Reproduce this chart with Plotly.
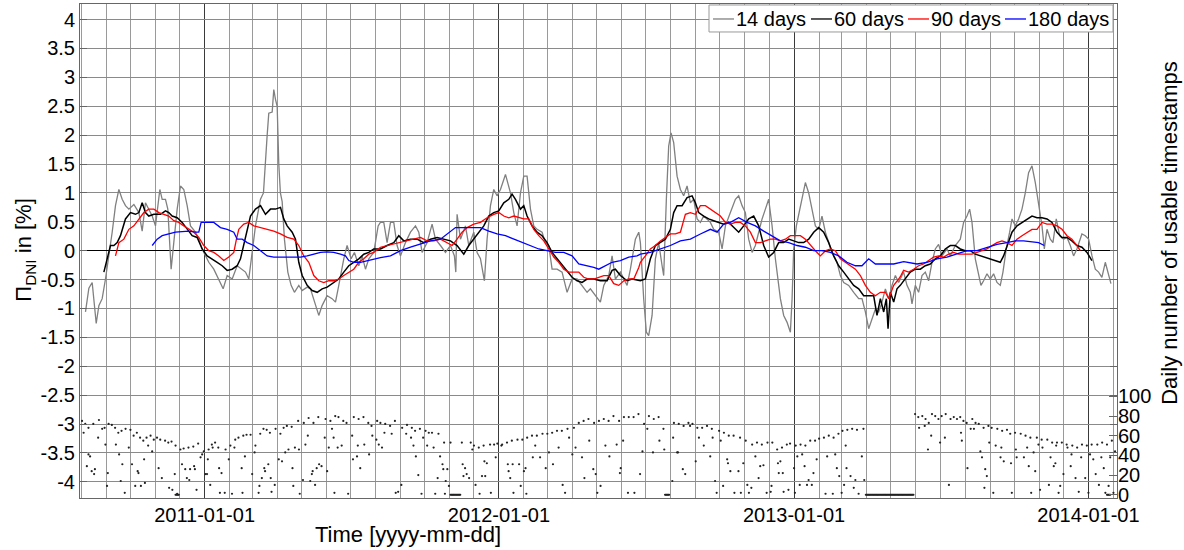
import pandas as pd
import plotly.graph_objects as go

BASE = "2010-08-01"  # day offsets below are counted from this date

# ---------------- 14 days (grey) ----------------
g14_day = [5.3, 9.5, 13.6, 18.6, 21.9, 26, 30.1, 34.3, 38.4, 42.5, 46.7, 50.8, 54.9, 59.1, 65.3, 71.5, 75.6,
           79.7, 83.8, 88, 92.1, 97.5, 100.4, 104.5, 107.4, 111.5, 114.8, 119, 123.1, 127.2, 131.4, 135.5,
           141.7, 145.8, 150, 154.1, 158.2, 164.4, 170.6, 176, 181, 187.2, 193.4, 199.6, 203.7, 207.8, 212,
           216.1, 222.3, 226, 230.6, 232.6, 236.8, 238.8, 240.9, 243, 245, 247, 249.2, 252, 256.2, 260.3,
           264.4, 269.8, 274, 280.2, 284.3, 288.4, 294.6, 298.7, 304.9, 311.1, 315.3, 319.4, 325.6, 329.7,
           334.7, 338.8, 344.2, 348.3, 352.5, 356.6, 362.8, 368.2, 371,
           375.2, 379.3, 383.5, 387.6, 391.7, 395.9, 402.1, 408.3, 414.5, 418.6, 422.7, 428.9, 435.1, 439.3,
           445.5, 451.7, 457.9, 462.8, 464.5, 466.1, 470.3, 476.5, 480.6, 486.8, 490.9, 495.1, 500, 503.3,
           507.5, 511.6, 515.7, 519.9, 526.1, 532.3, 536.4, 540.5, 544.7, 548.8, 552.9, 557.1, 561.2, 565.3,
           571.5, 575.6, 579.8, 583.9, 590.1, 596.3, 602.5, 608.7, 614.9, 621.1, 627.3, 631.4, 637.6, 643.8,
           648, 654.2, 658.3, 662.4, 668.6, 676.9, 681, 687.2, 691.4,
           693.4, 697.5, 700.8, 703.7, 707.9, 712, 716.1, 720.3, 722.3, 725.6, 728.5, 731.4, 734.7, 738.9,
           743, 747.1, 751.3, 755.4, 759.5, 763.7, 767.8, 771.9, 776, 780.2, 784.3, 790.5, 794.7, 798.8, 805,
           811.2, 815.3, 819.5, 823.6, 827.7, 831.9, 836, 840.1, 844.3, 848.4, 852.5, 856.7, 860.8, 867,
           871.1, 875.3, 879.4, 881.5, 883.5, 886.8, 891, 895.1, 898, 902.1, 906.2, 910.4, 914.5, 918.6,
           922.8, 926.9, 931, 937.2, 941.4, 945.5, 951.7, 957.9, 964.1, 968.2, 972.4, 976.5, 980.6, 984.8,
           988.9, 993, 997.2, 1001.3, 1005.4, 1009.6, 1013.7,
           1015.7, 1019.8, 1024, 1028.1, 1030.2, 1034.3, 1038.4, 1042.6, 1046.7, 1050.8, 1055, 1059.1,
           1063.2, 1067.4, 1073.6, 1077.7, 1083.9, 1090.1, 1094.2, 1098.4, 1101.7, 1104.6, 1108.7, 1112.8,
           1115.7, 1119, 1123.2, 1127.3, 1131.4, 1135.6, 1139.7, 1143, 1147.1, 1151.3, 1154.2, 1158.3,
           1162.4, 1166.6, 1170.7, 1174.8, 1179, 1183.1, 1187.2, 1191.4, 1194.3, 1197.6, 1201.7, 1205,
           1209.1, 1213.3, 1218.2, 1222.4, 1226.5, 1230.6, 1234.7, 1240.9, 1245.1, 1249.2, 1253.4, 1257.5,
           1261.6, 1265.7, 1269.9, 1274, 1276.9]
g14_val = [-1.06, -0.65, -0.55, -1.26, -0.95, -0.83, -0.49, -0.09, 0.32, 0.78, 1.06, 0.89, 0.78, 0.72, 0.8,
           0.66, 0.34, 0.83, 0.72, 0.6, 0.43, 1.06, 0.89, 0.89, 0.72, -0.32, 0.14, 0.72, 1.12, 1.06, 0.78,
           0.43, 0.32, 0.2, 0.03, -0.09, -0.2, -0.32, -0.49, -0.66, -0.43, -0.49, -0.26, -0.32, -0.37, -0.49,
           0.03, 0.43, 0.89, 1.0, 2.0, 2.38, 2.4, 2.79, 2.62, 2.5, 1.5, 1.0, 0.85, 0.2, -0.37, -0.6, -0.72,
           -0.6, -0.69, -0.63, -0.66, -0.83, -1.12, -0.95, -0.78, -0.83, -0.89, -0.6, -0.14, 0.09, -0.14,
           -0.03, -0.26, -0.09, -0.32, -0.14, -0.03, 0.43, 0.49,
           0.49, 0.14, 0.49, 0.49, 0.09, -0.09, 0.14, 0.32, 0.43, 0.32, -0.03, 0.14, 0.46, 0.2, 0.09, -0.03,
           0.09, -0.09, -0.37, 0.63, 0.2, 0.43, 0.09, 0.32, -0.03, -0.14, -0.52, 0.2, 0.78, 1.06, 0.95, 1.06,
           1.32, 1.0, 0.66, 0.43, 1.0, 1.29, 1.29, 0.72, 0.43, 0.37, 0.32, 0.14, 0.09, -0.32, -0.32, -0.37,
           -0.72, -0.49, -0.49, -0.6, -0.72, -0.66, -0.78, -0.89, -0.6, -0.43, -0.09, -0.49, -0.37, -0.6,
           -0.32, 0.2, 0.32,
           0.14, -0.83, -1.41, -1.47, -1.12, -0.14, 0.14, -0.26, -0.43, 0.89, 1.81, 2.04, 1.87, 1.29, 1.06,
           0.95, 1.12, 0.83, 0.89, 0.55, 0.49, 0.6, 0.55, 0.49, 0.37, 0.32, 0.03, 0.43, 0.66, 0.89, 0.95,
           0.78, 0.66, 0.2, -0.03, 0.09, 0.32, 0.55, 0.72, 0.89, 0.43, -0.14, -0.83, -1.12, -1.24, -1.41,
           -0.83, 0.03, 0.43, 0.72, 0.95, 1.18, 1.0, 0.72, 0.43, 0.37, 0.6, 0.32, 0.14, -0.03, -0.2, -0.43,
           -0.55, -0.6, -0.72, -0.83, -0.83, -1.06, -1.35, -1.18, -1.01, -1.06, -0.89, -0.66, -0.83, -0.6,
           -0.43, -0.55,
           -0.49, -0.37, -0.6, -0.72, -0.92, -0.6, -0.72, -0.43, -0.37, -0.52, -0.2, 0.03, 0.11, -0.09, 0.03,
           -0.09, 0.09, 0.2, 0.49, 0.6, 0.72, 0.49, -0.14, -0.43, -0.6, -0.52, -0.4, -0.49, -0.4, -0.55,
           -0.6, -0.37, 0.03, 0.32, 0.55, 0.43, 0.55, 0.72, 1.0, 1.35, 1.47, 1.18, 0.78, 0.43, 0.03, 0.37,
           0.2, 0.14, 0.55, 0.26, 0.2, 0.23, 0.09, -0.09, 0.03, 0.29, 0.26, 0.2, -0.09, -0.32, -0.37, -0.46,
           -0.2, -0.43, -0.57]

# ---------------- 60 days (black) ----------------
g60_day = [28.1, 32.2, 36.3, 40.5, 44.6, 48.7, 54.9, 61.1, 67.3, 71.5, 75.6, 79.7, 83.8, 90.1, 98.3, 104.5,
           108.6, 112.8, 119, 125.2, 131.4, 137.6, 143.8, 150, 156.2, 162.4, 168.6, 174.8, 181, 187.2, 193.4,
           197.5, 201.6, 205.8, 209.9, 216.1, 222.3, 228.5, 234.7, 240.9, 247.1, 251.2, 255.4, 261.6, 265.7,
           269.8, 274, 280.2, 286.4, 292.6, 298.8, 305, 313.2, 319.4, 325.6, 331.8, 338, 344.2, 350.4, 356.6,
           362.8,
           371.1, 379.3, 387.6, 393.8, 400, 408.3, 416.5, 424.8, 433.1, 441.3, 449.6, 457.9, 466.1, 474.4,
           480.6, 486.8, 493, 499.2, 505.4, 511.6, 517.8, 524, 530.2, 534.3, 538.5, 544.7, 548.8, 552.9,
           559.1, 565.3, 571.5, 577.7, 583.9, 590.1, 596.3, 602.5, 608.7, 614.9, 621.1, 627.3, 635.6, 643.8,
           652.1, 658.3, 662.4, 668.6, 676.9, 683.1, 691.4,
           693.4, 699.6, 705.8, 712, 718.2, 724.4, 730.6, 734.7, 738.9, 745.1, 751.3, 757.5, 761.6, 765.7,
           771.9, 778.1, 784.3, 790.5, 796.7, 802.9, 809.1, 815.3, 821.5, 827.7, 833.9, 840.1, 846.3, 852.5,
           858.7, 864.9, 871.1, 877.3, 883.5, 889.7, 895.9, 902.1, 908.3, 914.5, 920.7, 926.9, 933.1, 939.3,
           945.5, 951.7, 957.9, 964.1, 970.3, 976.5, 982.7, 986.8, 991, 995.1, 998.4, 1000.5, 1003.4,
           1007.5, 1011.6,
           1015.7, 1021.9, 1028.1, 1034.3, 1040.5, 1046.7, 1052.9, 1059.1, 1065.3, 1071.5, 1077.7, 1083.9,
           1090.1, 1096.3, 1102.5, 1108.7, 1114.9, 1121.1, 1127.3, 1133.5, 1139.7, 1143.8, 1148, 1154.2,
           1160.4, 1166.6, 1172.8, 1179, 1185.2, 1191.4, 1197.6, 1203.8, 1210, 1216.1, 1222.4, 1228.5,
           1234.7, 1240.9, 1247.2, 1253.3]
g60_val = [-0.37, -0.14, 0.09, 0.09, 0.14, 0.26, 0.55, 0.66, 0.63, 0.66, 0.83, 0.66, 0.6, 0.63, 0.63, 0.69,
           0.66, 0.6, 0.57, 0.49, 0.37, 0.26, 0.23, 0.03, -0.09, -0.14, -0.2, -0.26, -0.34, -0.32, -0.26,
           -0.14, 0.09, 0.32, 0.6, 0.72, 0.78, 0.63, 0.72, 0.72, 0.75, 0.55, 0.43, 0.32, 0.2, -0.2, -0.43,
           -0.6, -0.69, -0.72, -0.66, -0.63, -0.55, -0.49, -0.37, -0.26, -0.2, -0.14, -0.06, -0.03, 0.03,
           0.03, 0.09, 0.14, 0.26, 0.17, 0.2, 0.2, 0.14, 0.2, 0.23, 0.2, 0.17, 0.09, -0.06, 0.09, 0.2, 0.32,
           0.43, 0.6, 0.66, 0.69, 0.83, 0.89, 0.98, 0.89, 0.72, 0.78, 0.6, 0.43, 0.32, 0.26, 0.14, -0.03,
           -0.14, -0.26, -0.37, -0.46, -0.52, -0.55, -0.49, -0.49, -0.52, -0.52, -0.34, -0.32, -0.43, -0.52,
           -0.49, -0.52,
           -0.52, -0.49, -0.14, 0.09, 0.14, 0.2, 0.37, 0.66, 0.78, 0.78, 0.92, 0.95, 0.83, 0.66, 0.6, 0.55,
           0.52, 0.49, 0.46, 0.49, 0.4, 0.32, 0.43, 0.55, 0.6, 0.43, 0.09, -0.11, -0.03, 0.14, 0.14, 0.2,
           0.17, 0.14, 0.14, 0.2, 0.32, 0.4, 0.32, 0.14, -0.09, -0.26, -0.37, -0.49, -0.6, -0.66, -0.78,
           -0.78, -0.78, -1.12, -0.83, -1.06, -0.83, -1.35, -0.72, -0.89, -0.66,
           -0.6, -0.49, -0.37, -0.32, -0.32, -0.26, -0.23, -0.14, -0.09, 0.03, 0.09, 0.09, 0.03, 0.0, 0.0,
           -0.06, -0.09, -0.11, -0.14, -0.17, -0.2, -0.09, 0.09, 0.32, 0.43, 0.49, 0.55, 0.6, 0.57, 0.57,
           0.55, 0.49, 0.32, 0.23, 0.23, 0.17, 0.09, 0.06, -0.03, -0.17]

# ---------------- 90 days (red) ----------------
g90_day = [42.5, 46.7, 52.9, 59.1, 65.3, 71.5, 77.7, 83.8, 90.1, 96.3, 102.5, 108.6, 114.8, 121, 127.2,
           133.4, 139.6, 145.8, 152, 158.2, 164.4, 170.6, 176.8, 183, 189.2, 192.5, 195.4, 201.6, 207.8, 214,
           222.3, 230.6, 238.8, 247.1, 255.4, 263.6, 269.8, 276, 282.2, 288.4, 294.6, 300.8, 307, 313.2,
           319.4, 325.6, 331.8, 338, 344.2, 350.4, 356.6, 362.8,
           371.1, 379.3, 387.6, 395.9, 404.1, 412.4, 420.7, 428.9, 437.2, 445.5, 453.7, 460, 466.1, 472.3,
           478.5, 486.8, 495.1, 503.3, 511.6, 517.8, 524, 530.2, 536.4, 542.6, 548.8, 555, 561.2, 567.4,
           573.6, 579.8, 586, 592.2, 598.4, 604.6, 610.8, 617, 623.2, 629.4, 635.6, 641.8, 648, 654.2, 660.4,
           666.6, 672.8, 679, 685.2, 691.4,
           693.4, 699.6, 705.8, 712, 718.2, 724.4, 730.6, 736.8, 743, 749.2, 755.4, 761.6, 767.8, 774, 780.2,
           786.4, 792.6, 798.8, 805, 811.2, 817.4, 823.6, 829.8, 836, 842.2, 848.4, 854.6, 860.8, 867, 873.2,
           879.4, 885.6, 891.8, 898, 904.2, 910.4, 916.6, 922.8, 929, 935.2, 941.4, 947.6, 953.8, 960, 966.2,
           972.4, 978.6, 984.8, 991, 997.2, 1001.3, 1007.5, 1013.7,
           1015.7, 1019.8, 1026, 1032.2, 1038.4, 1044.6, 1050.8, 1057, 1063.2, 1069.4, 1075.6, 1081.8, 1088,
           1096.3, 1104.6, 1110.8, 1117, 1123.2, 1129.4, 1135.6, 1141.8, 1148, 1154.2, 1160.4, 1166.6,
           1172.8, 1179, 1185.2, 1191.4, 1197.6, 1203.8, 1210, 1216.2, 1222.4, 1228.5, 1234.7, 1238.9]
g90_val = [-0.09, 0.14, 0.2, 0.37, 0.43, 0.55, 0.66, 0.72, 0.72, 0.66, 0.63, 0.6, 0.52, 0.49, 0.43, 0.37,
           0.32, 0.23, 0.09, 0.0, -0.03, -0.09, -0.17, -0.11, -0.03, 0.2, 0.37, 0.46, 0.49, 0.43, 0.4, 0.37,
           0.34, 0.29, 0.23, 0.2, 0.09, -0.09, -0.2, -0.43, -0.52, -0.55, -0.52, -0.52, -0.49, -0.43, -0.37,
           -0.32, -0.2, -0.14, -0.06, -0.03,
           0.06, 0.09, 0.11, 0.14, 0.17, 0.2, 0.23, 0.17, 0.17, 0.2, 0.14, 0.09, 0.2, 0.32, 0.4, 0.46, 0.49,
           0.57, 0.63, 0.66, 0.6, 0.57, 0.6, 0.57, 0.55, 0.55, 0.37, 0.26, 0.17, 0.03, -0.11, -0.2, -0.32,
           -0.37, -0.37, -0.37, -0.46, -0.49, -0.49, -0.46, -0.43, -0.43, -0.57, -0.6, -0.52, -0.49, -0.49,
           -0.29,
           -0.2, -0.09, 0.03, 0.09, 0.17, 0.23, 0.29, 0.29, 0.32, 0.63, 0.66, 0.63, 0.78, 0.78, 0.72, 0.66,
           0.6, 0.49, 0.46, 0.49, 0.49, 0.43, 0.32, 0.14, 0.14, 0.17, 0.2, 0.2, 0.17, 0.2, 0.26, 0.26, 0.26,
           0.2, 0.09, 0.0, -0.09, 0.0, 0.03, 0.0, -0.14, -0.2, -0.26, -0.32, -0.43, -0.6, -0.72, -0.78,
           -0.72, -0.72, -0.83, -0.6, -0.49,
           -0.45, -0.34, -0.37, -0.32, -0.26, -0.23, -0.17, -0.11, -0.09, -0.11, -0.06, -0.03, -0.06, -0.06,
           -0.06, -0.03, 0.0, 0.03, 0.09, 0.14, 0.17, 0.14, 0.09, 0.2, 0.26, 0.32, 0.37, 0.37, 0.49, 0.46,
           0.46, 0.43, 0.37, 0.26, 0.2, 0.09, 0.0]

# ---------------- 180 days (blue) ----------------
g180_day = [88, 94.2, 100.4, 108.6, 116.9, 125.2, 133.4, 141.7, 145.8, 148.7, 156.2, 164.4, 172.7, 181,
            189.2, 193.4, 199.6, 205.8, 214, 222.3, 230.6, 238.8, 247.1, 255.4, 263.6, 271.9, 280.2, 288.4,
            296.7, 305, 313.2, 321.5, 327.7, 331.8, 338, 346.3, 354.5, 362.8,
            371.1, 383.5, 395.9, 408.3, 420.7, 433.1, 445.5, 455.8, 464.1, 474.4, 484.7, 495.1, 505.4, 515.7,
            526.1, 536.4, 546.7, 557.1, 567.4, 577.7, 588, 598.4, 608.7, 617, 627.3, 635.6, 641.8, 650.1,
            658.3, 668.6, 679, 689.3,
            693.4, 705.8, 718.2, 730.6, 743, 755.4, 767.8, 780.2, 788.5, 796.7, 805, 815.3, 825.7, 836,
            846.3, 856.7, 867, 877.3, 887.7, 898, 908.3, 918.6, 929, 939.3, 949.6, 960, 968.2, 976.5, 984.8,
            995.1, 1007.5, 1019.9,
            1024, 1036.4, 1048.8, 1061.2, 1073.6, 1086, 1098.4, 1110.8, 1123.2, 1135.6, 1148, 1158.3,
            1168.6, 1179, 1187.2, 1194.3]
g180_val = [0.09, 0.2, 0.26, 0.29, 0.32, 0.33, 0.34, 0.32, 0.32, 0.49, 0.49, 0.49, 0.4, 0.37, 0.32, 0.2,
            0.2, 0.14, 0.09, 0.0, -0.09, -0.11, -0.11, -0.11, -0.11, -0.11, -0.09, -0.06, -0.03, -0.02,
            -0.03, -0.06, -0.09, -0.17, -0.2, -0.2, -0.17, -0.14,
            -0.12, -0.09, 0.0, 0.06, 0.11, 0.17, 0.2, 0.32, 0.4, 0.4, 0.4, 0.4, 0.34, 0.29, 0.26, 0.2, 0.14,
            0.09, 0.03, 0.0, -0.03, -0.03, -0.09, -0.23, -0.26, -0.29, -0.32, -0.26, -0.2, -0.17, -0.11,
            -0.09,
            -0.06, -0.03, 0.03, 0.09, 0.17, 0.2, 0.29, 0.37, 0.32, 0.46, 0.49, 0.57, 0.49, 0.43, 0.34, 0.26,
            0.17, 0.14, 0.09, 0.06, 0.0, 0.0, -0.03, -0.09, -0.2, -0.26, -0.26, -0.14, -0.23, -0.23, -0.23,
            -0.19,
            -0.2, -0.23, -0.2, -0.14, -0.11, -0.06, 0.0, 0.0, 0.06, 0.11, 0.14, 0.17, 0.17, 0.16, 0.14, 0.09]

# ---------------- daily number of usable timestamps (dots) ----------------
cnt_day = [1, 5, 9, 15, 22, 26, 29, 34, 38, 42, 46, 50, 55, 61, 65, 69, 73, 77, 81, 86, 90, 94, 98, 104, 108,
           112, 117, 123, 127, 133, 139, 145, 152, 158, 162, 166, 170, 179, 185, 191, 195, 201, 205, 210,
           216, 222, 226, 230, 234, 241, 247, 251, 255, 261, 269, 276, 282, 288, 294, 303, 309, 315, 319,
           325, 329, 338, 344, 350, 356, 360, 367, 371, 377, 383, 389, 398, 404, 410, 414, 420, 427,
           3, 9, 11, 7, 13, 17, 16, 21, 32, 33, 30, 43, 47, 51, 49, 54, 59, 63, 67, 74, 70, 71, 78, 79, 83,
           88, 96, 100, 109, 113, 116, 119, 125, 129, 131, 134, 135, 140, 141, 143, 148, 150, 154, 156, 157,
           160, 163, 171, 172, 174, 178, 183, 187, 190, 199, 200, 203, 212, 215, 220, 221, 224, 227, 228,
           232, 235, 236, 240, 245, 249, 253, 257, 262, 263, 265, 270, 271, 275, 278, 281, 284, 286, 287,
           290, 292, 295, 298, 302, 305, 307, 311, 313, 314, 318, 323, 331, 336, 337, 342, 343, 346, 351,
           357, 361, 366, 369, 373, 376, 385, 390, 393, 397, 403, 409, 412, 415, 418, 422, 424,
           431, 435, 443, 450, 458, 472, 483, 487, 493, 499, 507, 512, 516, 522, 528, 534, 541, 547, 553,
           559, 565, 572, 578, 584, 590, 596, 603, 611, 617, 623, 629, 636, 642, 648, 654, 660, 667, 673,
           679, 685, 691, 698, 704, 710, 716, 722, 735, 741, 747, 753, 758, 764, 770, 776, 782, 791, 797,
           803, 809, 817, 824, 832, 838, 844, 851, 857,
           429, 437, 445, 448, 449, 454, 452, 442, 456, 439, 451, 473, 474, 476, 478, 481, 485, 489, 494,
           497, 500, 501, 503, 508, 514, 521, 529, 530, 532, 535, 536, 543, 545, 549, 551, 552, 560, 563,
           569, 576, 580, 585, 592, 597, 600, 605, 609, 613, 621, 624, 630, 635, 638, 640, 644, 650, 655,
           664, 669, 668, 672, 678, 686, 693, 696, 702, 709, 717, 723, 733, 734, 739, 740, 746, 749, 755,
           762, 766, 772, 780, 783, 786, 788, 793, 796, 801, 802, 805, 810, 815, 818, 821, 826, 828, 831,
           836, 840, 842, 846, 850, 855, 856,
           863, 869, 875, 879, 886, 892, 898, 904, 910, 915, 921, 927, 933, 939, 944, 950, 956, 962, 970,
           1034, 1038, 1043, 1047, 1051, 1055, 1059, 1063, 1067, 1072, 1078, 1082, 1086, 1090, 1094, 1098,
           1105, 1109, 1113, 1119, 1125, 1129, 1136, 1142, 1148, 1152, 1158, 1165, 1171, 1177, 1185, 1191,
           1198, 1204, 1210, 1216, 1222, 1229, 1235, 1241, 1247, 1253, 1260, 1266, 1272, 1278,
           864, 867, 865, 870, 871, 877, 884, 885, 888, 891, 894, 897, 900, 902, 906, 908, 912, 923, 925,
           932, 935, 937, 940, 943, 946, 948, 949, 954, 958, 960, 964, 968, 971, 1039, 1046, 1050, 1054,
           1065, 1071, 1076, 1091, 1092, 1099, 1103, 1107, 1115, 1117, 1120, 1121, 1123, 1126, 1131, 1134,
           1140, 1141, 1144, 1153, 1154, 1159, 1160, 1169, 1173, 1175, 1178, 1181, 1183, 1187, 1189, 1192,
           1200, 1202, 1206, 1208, 1209, 1212, 1214, 1218, 1223, 1227, 1228, 1233, 1237, 1240, 1245, 1249,
           1251, 1255, 1258, 1262, 1265, 1268, 1270, 1274, 1276, 1280, 1282]
cnt_val = [75, 72, 68, 72, 76, 67, 68, 72, 71, 68, 63, 65, 67, 66, 60, 63, 58, 55, 58, 60, 56, 58, 56, 55, 53,
           54, 50, 46, 47, 48, 49, 52, 44, 46, 51, 53, 48, 46, 50, 56, 58, 60, 61, 61, 50, 62, 67, 66, 63,
           67, 62, 68, 70, 69, 75, 73, 78, 73, 79, 77, 75, 80, 79, 75, 73, 79, 77, 79, 73, 70, 75, 73, 72,
           70, 75, 68, 71, 68, 65, 67, 65,
           63, 41, 39, 29, 24, 26, 21, 58, 9, 22, 51, 51, 41, 31, 14, 2, 48, 31, 9, 9, 24, 22, 36, 12, 50,
           44, 27, 17, 7, 5, 21, 1, 31, 26, 17, 15, 26, 29, 26, 5, 38, 41, 21, 21, 36, 10, 48, 27, 2, 22, 2,
           36, 1, 48, 27, 2, 39, 21, 43, 2, 9, 17, 27, 24, 31, 17, 3, 10, 36, 34, 43, 46, 27, 9, 48, 46, 1,
           15, 51, 60, 14, 21, 24, 10, 27, 31, 29, 58, 24, 48, 67, 58, 2, 48, 50, 1, 60, 36, 39, 50, 27, 51,
           41, 60, 56, 51, 48, 63, 62, 2, 3, 10, 62, 58, 50, 39, 20, 1, 58,
           63, 63, 62, 53, 53, 53, 53, 50, 48, 50, 51, 51, 52, 51, 53, 55, 56, 56, 58, 60, 60, 62, 62, 63,
           65, 65, 67, 68, 73, 75, 77, 73, 75, 77, 75, 80, 75, 79, 79, 79, 82, 72, 80, 77, 79, 67, 73, 72,
           70, 73, 72, 68, 68, 70, 67, 65, 63, 60, 60, 58, 55, 51, 53, 51, 53, 53,
           50, 48, 39, 31, 26, 26, 14, 17, 9, 1, 1, 31, 19, 27, 21, 17, 46, 10, 1, 19, 34, 19, 32, 2, 38,
           50, 31, 24, 17, 31, 2, 31, 9, 24, 27, 1, 38, 50, 38, 27, 43, 31, 48, 10, 2, 58, 41, 48, 38, 17,
           55, 26, 21, 2, 9, 50, 39, 51, 27, 22, 55, 2, 2, 21, 44, 67, 43, 55, 46, 14, 58, 43, 43, 26, 21,
           70, 34, 58, 50, 39, 58, 14, 2, 55, 9, 36, 32, 24, 2, 24, 2, 32, 10, 2, 7, 39, 17, 29, 30, 2, 3, 9,
           46, 48, 51, 52, 50, 51, 50, 55, 55, 57, 58, 60, 58, 62, 65, 66, 67, 66, 67,
           82, 79, 80, 77, 73, 82, 80, 77, 80, 82, 77, 79, 77, 79, 75, 73, 77, 73, 72, 68, 70, 68, 67, 65,
           66, 62, 63, 62, 60, 58, 58, 56, 56, 53, 53, 53, 51, 50, 48, 51, 50, 51, 51, 53, 51, 55,
           32, 34, 22, 22, 3, 5, 27, 2, 39, 10, 41, 29, 10, 15, 10, 22, 36, 1, 39, 1, 41, 27, 19, 2, 10, 50,
           27, 19, 7, 15, 1, 39, 15, 68, 70, 46, 60, 53, 58, 10, 63, 55, 27, 67, 67, 44, 38, 7, 26, 19, 53,
           2, 50, 38, 48, 34, 32, 2, 46, 38, 38, 48, 29, 2, 43, 24, 51, 5, 48, 10, 38, 29, 32, 50, 2, 9, 21,
           48, 29, 41, 17, 3, 38, 17, 2, 41, 36, 21, 10, 38, 27, 2, 9, 38, 2, 44]

# runs of days with zero usable timestamps (first day, last day)
zero_runs = [(117, 121), (458, 470), (724, 729), (973, 1032), (1272, 1276)]

y_ticks = [-4, -3.5, -3, -2.5, -2, -1.5, -1, -0.5, 0, 0.5, 1, 1.5, 2, 2.5, 3, 3.5, 4]
y_ticktext = ["-4", "-3.5", "-3", "-2.5", "-2", "-1.5", "-1", "-0.5", "0", "0.5", "1", "1.5", "2",
              "2.5", "3", "3.5", "4"]
cnt_ticks = [0, 20, 40, 60, 80, 100]

series_names = ["14 days", "60 days", "90 days", "180 days"]
series_colors = ["#808080", "#000000", "#ff0000", "#0000ff"]
series_widths = [1.3, 1.5, 1.3, 1.3]


def to_dates(days):
    return pd.Timestamp(BASE) + pd.to_timedelta(days, unit="D")


zd, zv = [], []
for a, b in zero_runs:
    for d in range(a, b + 1):
        zd.append(d)
        zv.append(0)

FONT = "Liberation Sans, Arial, Helvetica, sans-serif"
TICK_SIZE = 20
TITLE_SIZE = 22

# plot-area geometry (pixels) used to place legend/titles in paper coordinates
PL, PR, PT, PB = 80, 1117, 4, 498.5


def px(xp):
    return (xp - PL) / (PR - PL)


def py(yp):
    return (PB - yp) / (PB - PT)


fig = go.Figure()
fig.add_trace(go.Scatter(x=to_dates(list(cnt_day) + zd), y=list(cnt_val) + zv, mode="markers",
                         marker=dict(size=2.2, color="#222"), yaxis="y2", showlegend=False,
                         hoverinfo="skip"))
for days, vals, nm, col, w in zip([g14_day, g60_day, g90_day, g180_day],
                                  [g14_val, g60_val, g90_val, g180_val],
                                  series_names, series_colors, series_widths):
    fig.add_trace(go.Scatter(x=to_dates(days), y=vals, mode="lines", name=nm,
                             line=dict(color=col, width=w), showlegend=False))

# legend box drawn as shapes + text (compact MATLAB-like legend)
shapes = [dict(type="rect", xref="paper", yref="paper", x0=px(709), x1=px(1113), y0=py(32), y1=py(5),
               fillcolor="white", line=dict(color="#999", width=1), layer="above")]
annotations = []
line_starts = [713, 811, 908, 1005]
for xs, nm, col in zip(line_starts, series_names, series_colors):
    shapes.append(dict(type="line", xref="paper", yref="paper", x0=px(xs), x1=px(xs + 21),
                       y0=py(19), y1=py(19), line=dict(color=col, width=1.3), layer="above"))
    annotations.append(dict(text=nm, xref="paper", yref="paper", x=px(xs + 22), y=py(19),
                            xanchor="left", yanchor="middle", showarrow=False,
                            font=dict(size=TICK_SIZE), borderpad=0))

annotations += [
    dict(text="Π<sub>DNI</sub> in [%]", xref="paper", yref="paper", x=px(25), y=py(250),
         textangle=-90, showarrow=False, xanchor="center", yanchor="middle", font=dict(size=TITLE_SIZE)),
    dict(text="Daily number of usable timestamps", xref="paper", yref="paper", x=px(1170), y=py(233),
         textangle=-90, showarrow=False, xanchor="center", yanchor="middle", font=dict(size=TITLE_SIZE),
         borderpad=0),
    dict(text="Time [yyyy-mm-dd]", xref="paper", yref="paper", x=px(408), y=py(535),
         showarrow=False, xanchor="center", yanchor="middle", font=dict(size=TITLE_SIZE)),
]

fig.update_layout(
    template="none",
    width=1184, height=550,
    margin=dict(l=80, r=67, t=4, b=51.5, autoexpand=False),
    paper_bgcolor="white", plot_bgcolor="white",
    font=dict(family=FONT, size=TICK_SIZE, color="black"),
    xaxis=dict(
        type="date", automargin=False,
        range=["2010-07-30 12:00", "2014-02-05 10:00"],
        tickformat="%Y-%m-%d", dtick="M12", tick0="2011-01-01",
        showgrid=True, gridcolor="#3a3a3a", gridwidth=1,
        minor=dict(dtick="M1", tick0="2011-01-01", showgrid=True, gridcolor="#9a9a9a", gridwidth=1,
                   ticks=""),
        showline=True, linecolor="#666", linewidth=1, mirror=True,
        ticks="", tickfont=dict(size=TICK_SIZE), zeroline=False, ticklabelstandoff=-1,
    ),
    yaxis=dict(
        automargin=False,
        range=[-4.28, 4.27], tickvals=y_ticks, ticktext=y_ticktext,
        showgrid=True, gridcolor="#8a8a8a", gridwidth=1,
        zeroline=True, zerolinecolor="#000", zerolinewidth=1,
        showline=True, linecolor="#666", linewidth=1, mirror="ticks",
        ticks="inside", ticklen=7, tickcolor="#666", tickfont=dict(size=TICK_SIZE),
    ),
    yaxis2=dict(
        automargin=False,
        overlaying="y", side="right", range=[-3.3, 498.8], tickvals=cnt_ticks,
        showgrid=False, zeroline=False, showline=False,
        ticks="inside", ticklen=8, tickcolor="#666", tickfont=dict(size=TICK_SIZE),
    ),
    showlegend=False,
    shapes=shapes,
    annotations=annotations,
)

fig.write_html("out.html", config={"displayModeBar": False},
               post_script="document.body.style.margin='0';")
